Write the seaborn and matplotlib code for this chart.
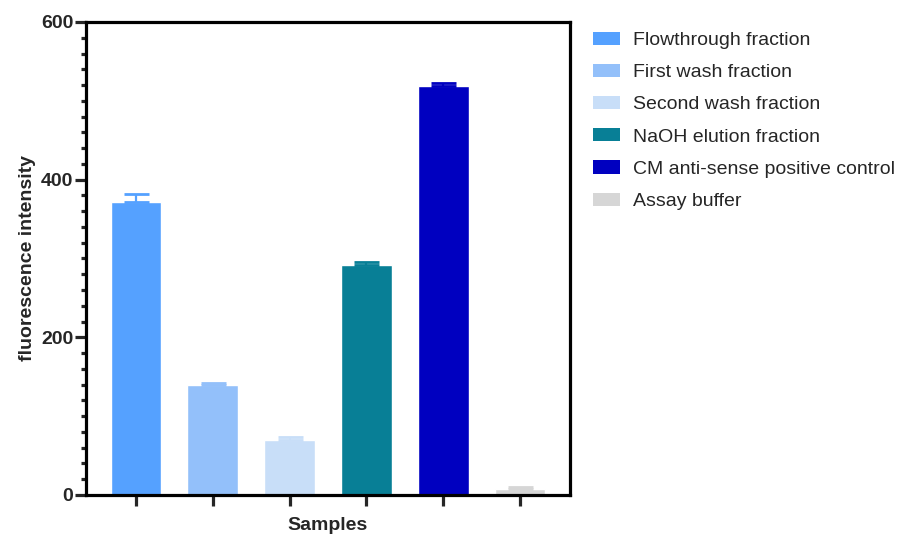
import matplotlib
matplotlib.use("Agg")
import matplotlib.pyplot as plt
from matplotlib.ticker import MultipleLocator
from matplotlib.patches import Patch
import seaborn as sns
import pandas as pd

samples = ["Flowthrough fraction", "First wash fraction", "Second wash fraction",
           "NaOH elution fraction", "CM anti-sense positive control", "Assay buffer"]
means = [372, 139, 70, 292, 519, 8]
sds = [10, 3, 3, 3, 3, 1.5]
colors = ["#55A1FF", "#93C0FA", "#C8DEF8", "#087F96", "#0000C0", "#D6D6D6"]

sns.set_theme(style="ticks")
plt.rcParams["font.family"] = ["Liberation Sans", "DejaVu Sans"]

df = pd.DataFrame({"sample": samples, "value": means})

fig = plt.figure(figsize=(9.04, 5.35), dpi=100)
ax = fig.add_axes([0.0951, 0.0748, 0.5354, 0.8841])

sns.barplot(data=df, x="sample", y="value", hue="sample", palette=colors,
            order=samples, hue_order=samples, width=0.66, dodge=False,
            legend=False, errorbar=None, saturation=1, ax=ax)

# upward-only error bars with caps
for i, (m, s, c) in enumerate(zip(means, sds, colors)):
    ax.errorbar(i, m, yerr=[[0], [s]], fmt="none", ecolor=c, elinewidth=1.6,
                capsize=9, capthick=2.0, zorder=3)

ax.set_ylim(0, 600)
ax.set_xlim(-0.65, 5.65)
ax.yaxis.set_major_locator(MultipleLocator(200))
ax.yaxis.set_minor_locator(MultipleLocator(20))
ax.set_xticks(range(len(samples)))
ax.set_xticklabels([])

for sp in ax.spines.values():
    sp.set_linewidth(2.3)
    sp.set_color("black")

ax.tick_params(axis="y", which="major", length=8, width=2.3, labelsize=14, pad=1)
ax.tick_params(axis="y", which="minor", length=3.8, width=2.3)
ax.tick_params(axis="x", which="major", length=8, width=2.3, pad=2)
for lbl in ax.get_yticklabels():
    lbl.set_fontweight("bold")

ax.set_xlabel("Samples", fontsize=14, fontweight="bold", labelpad=6)
ax.set_ylabel("fluorescence intensity", fontsize=14, fontweight="bold", labelpad=4)

handles = [Patch(facecolor=c, edgecolor="none", label=s) for s, c in zip(samples, colors)]
fig.legend(handles=handles, loc="upper left", bbox_to_anchor=(0.656, 0.941),
           frameon=False, fontsize=14, handlelength=1.4, handleheight=0.67,
           handletextpad=0.67, labelspacing=0.76, borderpad=0, borderaxespad=0)

fig.savefig("out.png", dpi=100)
